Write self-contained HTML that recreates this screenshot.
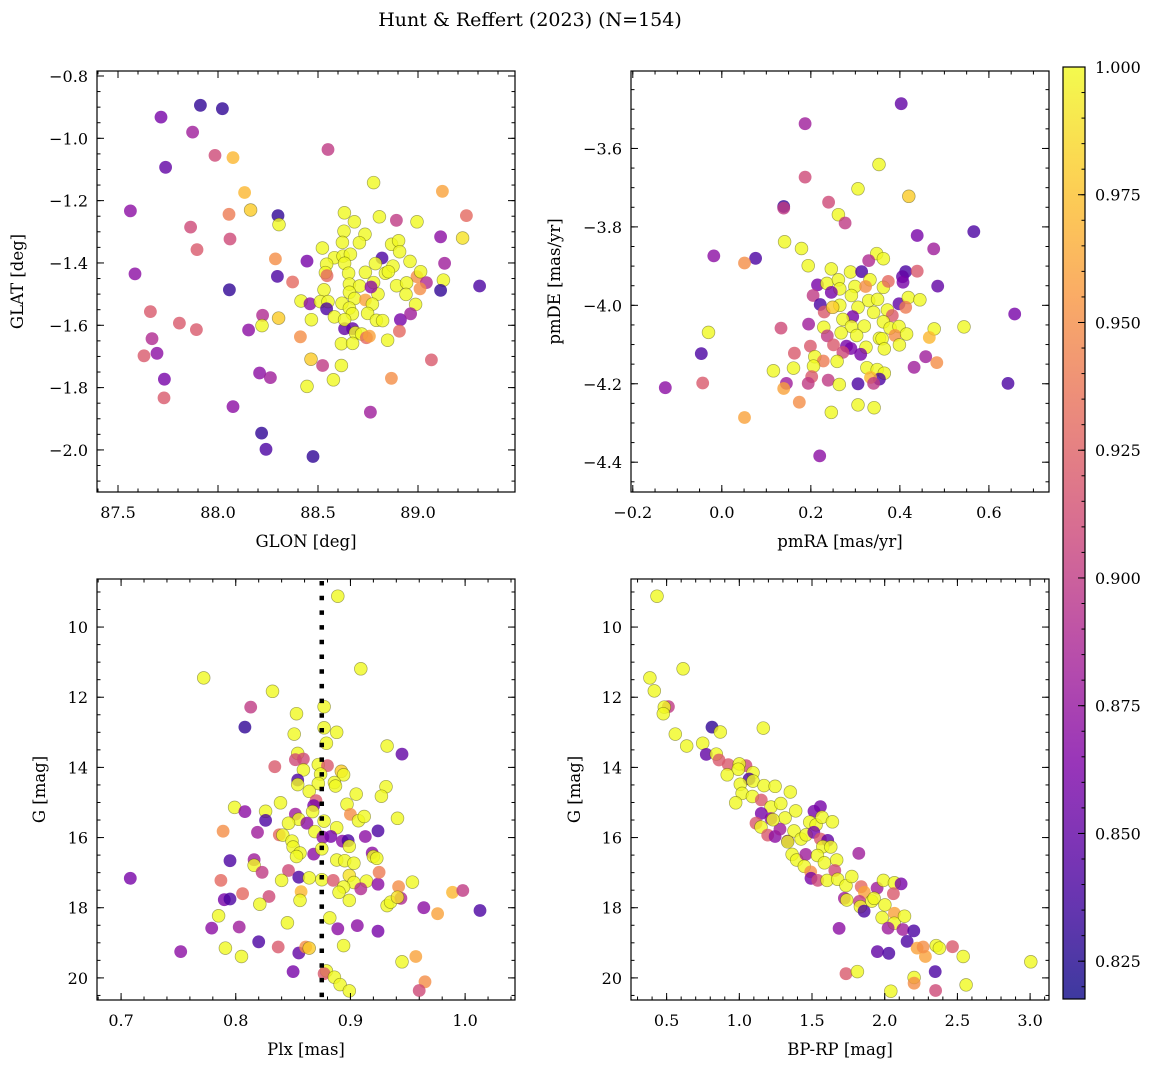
<!DOCTYPE html>
<html><head><meta charset="utf-8"><style>
html,body{margin:0;padding:0;background:#fff;}
svg{display:block;font-family:"DejaVu Serif","Liberation Serif",serif;}
</style></head><body>
<svg id="fig" width="1160" height="1067" viewBox="0 0 1160 1067" xmlns="http://www.w3.org/2000/svg">
<defs><linearGradient id="cbgrad" x1="0" y1="1" x2="0" y2="0"></linearGradient></defs>
<text x="530" y="26" font-size="19" text-anchor="middle">Hunt &amp; Reffert (2023) (N=154)</text>
<g id="plots"></g>
</svg>
<script>
// ---- data: probability colour scale ----
const probMin = 0.8176, probMax = 1.0;
// Top-left: GLON, GLAT, prob
const tlGlon = [87.912,88.022,87.715,87.873,87.985,88.075,88.550,87.738,88.778,89.122,88.133,87.562,88.055,88.163,88.300,88.305,87.863,89.242,88.892,88.632,88.682,88.807,88.995,88.060,87.895,89.113,89.223,88.522,88.630,88.622,88.735,88.707,88.868,88.903,88.908,88.287,88.445,88.820,88.582,88.625,88.662,88.633,88.787,88.960,89.133,87.585,88.297,88.373,88.543,88.537,88.545,88.653,88.737,88.837,88.875,88.852,88.995,89.013,89.042,89.127,88.057,89.308,89.113,88.778,88.657,88.708,88.893,88.943,89.010,88.530,88.657,88.800,88.940,88.765,88.415,88.460,88.512,88.550,88.543,88.620,88.683,88.737,88.772,88.988,87.662,88.223,88.303,88.467,88.582,88.657,88.672,88.748,88.792,88.823,88.912,88.963,87.807,87.892,88.153,88.220,88.633,88.633,88.673,88.687,88.718,88.742,88.757,88.848,88.907,87.670,87.695,87.630,88.412,88.617,88.673,88.465,88.523,88.617,89.067,88.208,88.262,87.732,88.577,88.445,88.867,87.730,88.075,88.762,88.218,88.240,88.475];
const tlGlat = [-0.894,-0.905,-0.932,-0.980,-1.055,-1.062,-1.036,-1.093,-1.142,-1.170,-1.174,-1.233,-1.244,-1.230,-1.248,-1.277,-1.285,-1.248,-1.263,-1.239,-1.268,-1.252,-1.268,-1.323,-1.357,-1.316,-1.320,-1.352,-1.298,-1.334,-1.308,-1.335,-1.340,-1.329,-1.364,-1.387,-1.394,-1.384,-1.383,-1.378,-1.372,-1.401,-1.402,-1.395,-1.401,-1.435,-1.443,-1.461,-1.404,-1.431,-1.441,-1.433,-1.430,-1.433,-1.410,-1.428,-1.444,-1.428,-1.463,-1.455,-1.486,-1.474,-1.488,-1.463,-1.468,-1.474,-1.473,-1.464,-1.483,-1.486,-1.494,-1.500,-1.501,-1.477,-1.522,-1.531,-1.524,-1.524,-1.547,-1.529,-1.514,-1.519,-1.532,-1.533,-1.556,-1.568,-1.577,-1.582,-1.573,-1.545,-1.563,-1.562,-1.584,-1.585,-1.582,-1.563,-1.593,-1.614,-1.615,-1.601,-1.611,-1.582,-1.611,-1.624,-1.628,-1.640,-1.635,-1.648,-1.619,-1.643,-1.690,-1.698,-1.637,-1.659,-1.658,-1.709,-1.729,-1.729,-1.711,-1.753,-1.768,-1.773,-1.775,-1.796,-1.770,-1.833,-1.861,-1.879,-1.946,-1.998,-2.021];
const tlProb = [0.83,0.83,0.86,0.88,0.91,0.97,0.90,0.85,1.0,0.96,0.97,0.87,0.94,0.98,0.83,1.0,0.91,0.93,0.90,1.0,1.0,1.0,1.0,0.91,0.92,0.87,0.99,1.0,1.0,1.0,1.0,1.0,1.0,1.0,1.0,0.95,0.86,0.84,1.0,1.0,1.0,1.0,1.0,1.0,0.88,0.87,0.84,0.93,1.0,1.0,0.93,1.0,1.0,1.0,1.0,1.0,0.95,1.0,0.89,1.0,0.83,0.84,0.83,1.0,1.0,1.0,1.0,1.0,0.95,1.0,1.0,1.0,1.0,0.87,1.0,0.87,1.0,1.0,0.84,1.0,1.0,0.96,1.0,1.0,0.92,0.89,0.98,1.0,1.0,1.0,1.0,1.0,1.0,1.0,0.86,0.88,0.92,0.92,0.87,1.0,0.85,1.0,0.85,1.0,1.0,0.93,0.96,1.0,0.93,0.89,0.87,0.92,0.95,1.0,1.0,0.98,0.90,1.0,0.92,0.87,0.88,0.86,1.0,1.0,0.95,0.92,0.87,0.88,0.83,0.84,0.83];
// Top-right: pmRA, pmDE, prob
const trPmra = [0.403,0.187,0.353,0.187,0.306,0.420,0.240,0.139,0.139,0.262,0.277,0.439,0.566,0.476,0.141,0.179,-0.018,0.076,0.051,0.194,0.348,0.363,0.330,0.246,0.289,0.314,0.413,0.439,0.406,0.215,0.236,0.262,0.265,0.299,0.333,0.363,0.374,0.485,0.407,0.323,0.205,0.221,0.246,0.265,0.291,0.330,0.350,0.398,0.419,0.445,0.413,0.230,0.249,0.306,0.341,0.372,0.383,0.294,0.658,0.133,0.195,0.229,0.272,0.291,0.320,0.363,0.378,0.398,0.477,0.544,-0.030,0.237,0.268,0.303,0.354,0.360,0.389,0.415,0.466,0.199,0.251,0.280,0.290,0.324,0.365,0.399,-0.046,0.163,0.272,0.312,0.209,0.228,0.259,0.458,0.483,0.116,0.161,0.206,0.326,0.349,0.365,0.432,0.354,0.334,0.341,0.306,0.202,0.239,0.264,0.194,0.145,0.139,-0.043,-0.127,0.643,0.174,0.306,0.342,0.246,0.051,0.220];
const trPmde = [-3.486,-3.537,-3.641,-3.673,-3.703,-3.722,-3.737,-3.748,-3.752,-3.769,-3.790,-3.822,-3.812,-3.856,-3.838,-3.855,-3.874,-3.880,-3.892,-3.899,-3.868,-3.881,-3.886,-3.907,-3.915,-3.914,-3.914,-3.913,-3.927,-3.948,-3.944,-3.935,-3.958,-3.952,-3.935,-3.954,-3.939,-3.951,-3.941,-3.952,-3.975,-3.998,-3.967,-4.000,-3.975,-3.988,-3.985,-3.996,-3.980,-3.986,-4.005,-4.017,-4.005,-4.005,-4.018,-4.012,-4.026,-4.029,-4.022,-4.058,-4.048,-4.056,-4.036,-4.054,-4.053,-4.042,-4.058,-4.054,-4.060,-4.055,-4.069,-4.078,-4.070,-4.077,-4.084,-4.085,-4.077,-4.073,-4.082,-4.104,-4.101,-4.104,-4.110,-4.107,-4.111,-4.101,-4.123,-4.122,-4.120,-4.125,-4.131,-4.142,-4.143,-4.131,-4.146,-4.167,-4.160,-4.155,-4.159,-4.164,-4.173,-4.158,-4.188,-4.184,-4.199,-4.200,-4.182,-4.191,-4.202,-4.199,-4.199,-4.212,-4.198,-4.210,-4.199,-4.247,-4.254,-4.261,-4.273,-4.286,-4.384];
const trProb = [0.85,0.88,1.0,0.91,1.0,0.98,0.91,0.83,0.90,1.0,0.90,0.86,0.84,0.88,1.0,1.0,0.87,0.84,0.95,1.0,1.0,1.0,0.89,1.0,1.0,0.84,0.84,0.92,0.85,0.86,1.0,1.0,1.0,1.0,1.0,1.0,0.93,0.85,0.86,0.95,0.90,0.84,0.86,1.0,1.0,1.0,1.0,0.85,1.0,1.0,0.94,0.92,0.98,1.0,1.0,1.0,0.92,0.86,0.86,0.91,0.88,1.0,1.0,1.0,1.0,1.0,1.0,1.0,1.0,1.0,1.0,0.90,1.0,1.0,1.0,1.0,0.95,1.0,0.97,0.92,0.92,0.86,0.86,1.0,1.0,1.0,0.84,0.92,0.91,0.86,1.0,0.94,1.0,0.88,0.95,1.0,1.0,1.0,1.0,1.0,1.0,0.88,0.84,0.97,0.90,0.84,0.92,0.90,1.0,0.90,0.88,0.96,0.92,0.87,0.84,0.95,1.0,1.0,1.0,0.96,0.87];
// Bottom-left: Plx, G, prob
const plxCut = 0.875;
const blPlx = [0.889,0.909,0.772,0.832,0.813,0.877,0.853,0.808,0.877,0.888,0.851,0.879,0.932,0.945,0.854,0.852,0.859,0.834,0.872,0.880,0.859,0.892,0.894,0.854,0.854,0.874,0.872,0.886,0.887,0.864,0.905,0.931,0.927,0.839,0.870,0.799,0.808,0.826,0.868,0.867,0.897,0.877,0.826,0.852,0.855,0.862,0.846,0.900,0.907,0.912,0.941,0.789,0.819,0.838,0.841,0.869,0.888,0.924,0.876,0.883,0.893,0.898,0.899,0.913,0.849,0.850,0.856,0.853,0.868,0.875,0.919,0.920,0.923,0.888,0.895,0.903,0.795,0.816,0.816,0.823,0.846,0.708,0.787,0.840,0.855,0.864,0.875,0.885,0.899,0.903,0.914,0.909,0.924,0.925,0.942,0.954,0.894,0.890,0.857,0.856,0.899,0.790,0.795,0.806,0.829,0.821,0.932,0.935,0.944,0.941,0.989,0.998,0.964,0.976,1.013,0.785,0.779,0.803,0.845,0.882,0.889,0.906,0.924,0.820,0.752,0.791,0.805,0.837,0.855,0.861,0.864,0.894,0.945,0.957,0.850,0.879,0.877,0.886,0.891,0.899,0.965,0.960];
const blG = [9.12,11.19,11.45,11.83,12.28,12.27,12.47,12.85,12.87,13.00,13.05,13.31,13.39,13.62,13.60,13.78,13.76,13.98,13.92,13.95,14.07,14.11,14.21,14.36,14.49,14.19,14.46,14.43,14.53,14.68,14.76,14.55,14.82,15.01,14.95,15.14,15.26,15.25,15.09,15.26,15.05,15.53,15.51,15.33,15.48,15.59,15.59,15.34,15.52,15.40,15.45,15.82,15.85,15.92,15.93,15.83,15.72,15.81,15.99,15.97,16.10,16.09,16.25,15.97,16.10,16.27,16.44,16.54,16.47,16.32,16.44,16.54,16.59,16.64,16.66,16.73,16.66,16.63,16.79,16.99,16.94,17.16,17.22,17.22,17.13,17.15,17.20,17.22,17.08,17.28,17.24,17.46,17.33,16.99,17.40,17.27,17.41,17.56,17.54,17.79,17.79,17.77,17.75,17.60,17.68,17.90,17.94,17.84,17.73,17.70,17.56,17.51,18.00,18.17,18.08,18.23,18.58,18.55,18.43,18.29,18.60,18.51,18.67,18.97,19.25,19.15,19.39,19.12,19.29,19.12,19.15,19.08,19.54,19.39,19.82,19.80,19.88,19.98,20.19,20.37,20.11,20.36];
const blProb = [1.0,1.0,1.0,1.0,0.90,1.0,1.0,0.83,1.0,1.0,1.0,1.0,1.0,0.85,1.0,0.91,0.91,0.92,1.0,0.92,1.0,0.98,1.0,0.84,1.0,1.0,1.0,1.0,1.0,1.0,1.0,1.0,1.0,1.0,0.92,1.0,0.87,1.0,0.86,1.0,1.0,1.0,0.84,0.88,1.0,0.87,1.0,0.95,1.0,1.0,1.0,0.95,0.88,0.93,1.0,1.0,1.0,0.84,0.87,0.86,0.87,0.84,1.0,0.87,1.0,1.0,1.0,1.0,0.87,1.0,0.87,1.0,1.0,1.0,1.0,1.0,0.84,0.88,1.0,0.90,0.91,0.86,0.93,1.0,0.84,1.0,1.0,0.92,0.99,1.0,1.0,0.89,0.87,0.94,0.95,1.0,1.0,1.0,0.97,1.0,1.0,0.86,0.84,0.93,0.91,1.0,1.0,1.0,0.89,0.99,0.97,0.90,0.87,0.96,0.84,1.0,0.87,0.88,1.0,1.0,0.87,0.87,0.86,0.84,0.87,1.0,1.0,0.92,0.85,0.95,0.98,1.0,1.0,0.96,0.86,1.0,0.92,1.0,1.0,1.0,0.95,0.91];
// Bottom-right: BP-RP, G, prob
const brColor = [0.434,0.613,0.385,0.415,0.512,0.484,0.477,0.812,0.869,1.165,0.560,0.638,0.748,0.773,0.842,0.860,0.924,1.046,1.000,0.993,0.917,1.094,1.067,1.094,1.170,1.246,1.007,1.019,1.090,1.151,0.975,1.351,1.218,1.285,1.151,1.218,1.315,1.388,1.514,1.558,1.484,1.528,1.569,1.640,1.115,1.149,1.195,1.246,1.280,1.232,1.333,1.376,1.425,1.459,1.512,1.558,1.608,1.574,1.629,1.333,1.363,1.395,1.457,1.537,1.585,1.670,1.822,1.447,1.491,1.493,1.540,1.604,1.657,1.677,1.734,1.774,1.838,1.860,1.948,1.991,2.067,2.113,2.060,1.723,1.739,1.826,1.833,1.858,1.911,1.927,2.001,2.067,1.982,2.065,2.136,2.023,2.125,2.200,2.154,2.223,2.280,2.264,2.354,2.376,2.466,2.540,1.686,1.950,2.028,2.347,1.734,1.812,2.202,2.202,2.042,2.350,2.560,3.005];
const brG = [9.12,11.19,11.45,11.82,12.27,12.28,12.47,12.85,12.99,12.88,13.05,13.39,13.31,13.63,13.62,13.79,13.92,13.95,13.90,14.05,14.21,14.15,14.33,14.39,14.52,14.54,14.48,14.74,14.83,14.93,15.01,14.70,15.13,15.03,15.31,15.46,15.44,15.24,15.25,15.12,15.56,15.64,15.42,15.55,15.59,15.70,15.93,15.97,15.76,15.49,16.10,15.81,16.04,15.92,15.85,16.04,16.08,16.26,16.27,16.12,16.48,16.64,16.48,16.51,16.72,16.64,16.45,16.82,16.98,17.16,17.22,17.22,16.94,17.19,17.37,17.11,17.40,17.56,17.44,17.22,17.29,17.32,17.60,17.73,17.78,17.82,17.97,18.10,17.81,17.73,17.92,18.16,18.28,18.44,18.24,18.58,18.62,18.66,18.96,19.15,19.39,19.12,19.08,19.15,19.11,19.39,18.59,19.25,19.30,19.82,19.88,19.82,19.99,20.15,20.38,20.36,20.20,19.54];
const brProb = [1.0,1.0,1.0,1.0,0.90,1.0,1.0,0.83,1.0,1.0,1.0,1.0,1.0,0.85,1.0,0.92,0.92,0.91,1.0,1.0,1.0,1.0,0.84,1.0,1.0,1.0,1.0,1.0,1.0,0.92,1.0,1.0,1.0,1.0,0.86,0.87,1.0,1.0,0.86,0.86,1.0,1.0,1.0,1.0,0.92,1.0,0.92,0.87,0.88,1.0,0.86,1.0,1.0,1.0,0.86,0.92,0.85,1.0,1.0,1.0,1.0,1.0,0.88,1.0,1.0,1.0,0.88,1.0,0.95,0.86,0.91,1.0,0.91,1.0,1.0,1.0,0.93,0.96,0.88,1.0,1.0,0.86,0.92,0.88,1.0,0.90,1.0,0.84,1.0,1.0,1.0,0.96,1.0,1.0,1.0,0.88,0.88,0.84,0.84,0.96,0.96,0.95,1.0,1.0,0.92,1.0,0.87,0.85,0.84,0.84,0.92,1.0,1.0,0.95,1.0,0.91,1.0,1.0];
// colour bar ticks
const cbTicks = [0.825,0.850,0.875,0.900,0.925,0.950,0.975,1.000];

const plasma = [[13,8,135],[76,2,161],[126,3,168],[169,35,149],[204,71,120],[229,107,93],[248,149,64],[253,197,39],[240,249,33]];
function cmap(p){
  let t=(p-probMin)/(probMax-probMin); t=Math.max(0,Math.min(1,t));
  const f=t*(plasma.length-1); const i=Math.min(plasma.length-2,Math.floor(f)); const u=f-i;
  const a=plasma[i],b=plasma[i+1];
  return 'rgb('+a.map((v,k)=>Math.round(v+(b[k]-v)*u)).join(',')+')';
}
const NS='http://www.w3.org/2000/svg';
const root=document.getElementById('plots');
function el(tag,attrs,parent){const e=document.createElementNS(NS,tag);for(const k in attrs)e.setAttribute(k,attrs[k]);(parent||root).appendChild(e);return e;}
function fmt(v,d){const s=Math.abs(v).toFixed(d);return (v<-1e-9?'\u2212':'')+s;}

function panel(cfg){
  const g=el('g',{});
  
  
  const {x0,y0,w,h}=cfg;
  const sx=v=>x0+(v-cfg.xmin)/(cfg.xmax-cfg.xmin)*w;
  const sy=cfg.yinv? (v=>y0+(v-cfg.ymin)/(cfg.ymax-cfg.ymin)*h) : (v=>y0+h-(v-cfg.ymin)/(cfg.ymax-cfg.ymin)*h);
  const pg=el('g',{},g);
  
  
  for(let i=0;i<cfg.xs.length;i++){
    const p=cfg.ps[i];
    const c=el('circle',{cx:sx(cfg.xs[i]).toFixed(1),cy:sy(cfg.ys[i]).toFixed(1),r:6.4,fill:cmap(p),'fill-opacity':0.8,stroke:'rgba(60,60,0,0.45)','stroke-width':p>0.97?0.7:0},pg);
    
    
  }
  if(cfg.extra) cfg.extra(g,sx,sy);
  const fr=el('rect',{x:x0,y:y0,width:w,height:h,fill:'none',stroke:'#000','stroke-width':1.2},g);
  
  
  const tg=el('g',{stroke:'#000','stroke-width':1},g);
  function ticks(min,max,step,axis,len){
    const out=[];const a=Math.ceil(min/step-1e-6),b=Math.floor(max/step+1e-6);
    for(let k=a;k<=b;k++){const v=k*step;
      if(axis==='x'){const X=sx(v);el('line',{x1:X,x2:X,y1:y0+h,y2:y0+h-len},tg);el('line',{x1:X,x2:X,y1:y0,y2:y0+len},tg);}
      else {const Y=sy(v);el('line',{x1:x0,x2:x0+len,y1:Y,y2:Y},tg);el('line',{x1:x0+w,x2:x0+w-len,y1:Y,y2:Y},tg);}
      out.push(v);}
    return out;
  }
  ticks(cfg.xmin,cfg.xmax,cfg.xminor,'x',3.5);
  ticks(cfg.ymin,cfg.ymax,cfg.yminor,'y',3.5);
  const xm=ticks(cfg.xmin,cfg.xmax,cfg.xmajor,'x',7);
  const ym=ticks(cfg.ymin,cfg.ymax,cfg.ymajor,'y',7);
  xm.forEach(v=>{const t=el('text',{x:sx(v),y:y0+h+26,'font-size':16,'text-anchor':'middle'},g);t.textContent=fmt(v,cfg.xdec);
    
    });
  ym.forEach(v=>{const t=el('text',{x:x0-9,y:sy(v)+6,'font-size':16,'text-anchor':'end'},g);t.textContent=fmt(v,cfg.ydec);
    
    });
  const xl=el('text',{x:x0+w/2,y:y0+h+55,'font-size':16.5,'text-anchor':'middle'},g);xl.textContent=cfg.xlabel;
  
  
  const yl=el('text',{x:0,y:0,'font-size':16.5,'text-anchor':'middle',transform:'translate('+cfg.ylx+','+(y0+h/2)+') rotate(-90)'},g);yl.textContent=cfg.ylabel;
  
  
}

panel({name:'glon-glat-panel',x0:97,y0:71,w:418,h:421,xmin:87.395,xmax:89.485,ymin:-2.135,ymax:-0.784,xmajor:0.5,xminor:0.1,ymajor:0.2,yminor:0.05,xdec:1,ydec:1,xs:tlGlon,ys:tlGlat,ps:tlProb,xlabel:'GLON [deg]',ylabel:'GLAT [deg]',ylx:23});
panel({name:'proper-motion-panel',x0:631,y0:71,w:418,h:421,xmin:-0.204,xmax:0.735,ymin:-4.476,ymax:-3.4025,xmajor:0.2,xminor:0.05,ymajor:0.2,yminor:0.05,xdec:1,ydec:1,xs:trPmra,ys:trPmde,ps:trProb,xlabel:'pmRA [mas/yr]',ylabel:'pmDE [mas/yr]',ylx:560});
panel({name:'parallax-magnitude-panel',x0:97,y0:579,w:418,h:421,xmin:0.679,xmax:1.0435,ymin:8.63,ymax:20.63,yinv:true,xmajor:0.1,xminor:0.02,ymajor:2,yminor:0.5,xdec:1,ydec:0,xs:blPlx,ys:blG,ps:blProb,xlabel:'Plx [mas]',ylabel:'G [mag]',ylx:45,
  extra:(g,sx,sy)=>{const l=el('line',{x1:sx(plxCut),x2:sx(plxCut),y1:581,y2:1000,stroke:'#000','stroke-width':4.5,'stroke-dasharray':'4.5 10.2'},g);
    
    }});
panel({name:'color-magnitude-panel',x0:631,y0:579,w:418,h:421,xmin:0.255,xmax:3.13,ymin:8.63,ymax:20.63,yinv:true,xmajor:0.5,xminor:0.1,ymajor:2,yminor:0.5,xdec:1,ydec:0,xs:brColor,ys:brG,ps:brProb,xlabel:'BP-RP [mag]',ylabel:'G [mag]',ylx:580});

(function(){
  const x0=1063,y0=67,w=22,h=932;
  const g=el('g',{});
  
  
  const grad=document.getElementById('cbgrad');
  for(let i=0;i<=20;i++){const t=i/20;const s=document.createElementNS(NS,'stop');s.setAttribute('offset',t);s.setAttribute('stop-color',cmap(probMin+t*(probMax-probMin)));s.setAttribute('stop-opacity',0.8);grad.appendChild(s);}
  el('rect',{x:x0,y:y0,width:w,height:h,fill:'url(#cbgrad)',stroke:'#000','stroke-width':1.2},g);
  const sy=v=>y0+h-(v-probMin)/(probMax-probMin)*h;
  for(let k=Math.ceil(probMin/0.005-1e-6);k<=Math.floor(probMax/0.005+1e-6);k++){const Y=sy(k*0.005);el('line',{x1:x0+w,x2:x0+w-3.5,y1:Y,y2:Y,stroke:'#000'},g);}
  cbTicks.forEach(v=>{const Y=sy(v);el('line',{x1:x0+w,x2:x0+w-7,y1:Y,y2:Y,stroke:'#000'},g);
    const t=el('text',{x:x0+w+10,y:Y+6,'font-size':16},g);t.textContent=v.toFixed(3);
    
    });
})();
</script>
</body></html>
